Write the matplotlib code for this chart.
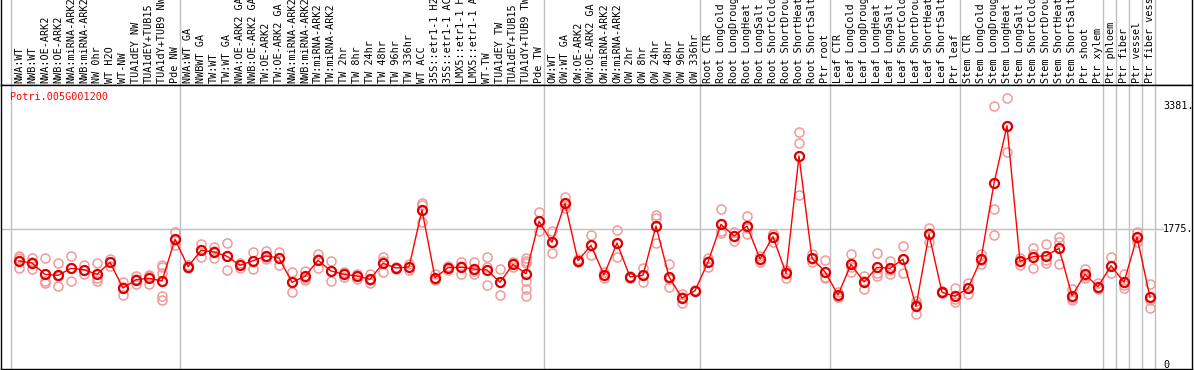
import numpy as np
import matplotlib.pyplot as plt

gene = "Potri.005G001200"

sample_labels = [
    "NWA:WT", "NWB:WT", "NWA:OE-ARK2", "NWB:OE-ARK2", "NWA:miRNA-ARK2", "NWB:miRNA-ARK2",
    "NW 0hr", "WT H2O", "WT-NW", "TUA1dEY NW", "TUA1dEY+TUB15", "TUA1dY+TUB9 NW", "Pde NW",
    "NWA:WT GA", "NWBWT GA", "TW:WT", "TW:WT GA", "NWA:OE-ARK2 GA", "NWB:OE-ARK2 GA",
    "TW:OE-ARK2", "TW:OE-ARK2 GA", "NWA:miRNA-ARK2", "NWB:miRNA-ARK2", "TW:miRNA-ARK2",
    "TW:miRNA-ARK2", "TW 2hr", "TW 8hr", "TW 24hr", "TW 48hr", "TW 96hr", "TW 336hr",
    "WT ACC", "35S::etr1-1 H2", "35S::etr1-1 AC", "LMX5::etr1-1 H", "LMX5::etr1-1 A",
    "WT-TW", "TUA1dEY TW", "TUA1dEY+TUB15", "TUA1dY+TUB9 TW", "Pde TW",
    "OW:WT", "OW:WT GA", "OW:OE-ARK2", "OW:OE-ARK2 GA", "OW:miRNA-ARK2", "OW:miRNA-ARK2",
    "OW 2hr", "OW 8hr", "OW 24hr", "OW 48hr", "OW 96hr", "OW 336hr",
    "Root CTR", "Root LongCold", "Root LongDroug", "Root LongHeat", "Root LongSalt",
    "Root ShortCold", "Root ShortDrou", "Root ShortHeat", "Root ShortSalt", "Ptr root",
    "Leaf CTR", "Leaf LongCold", "Leaf LongDroug", "Leaf LongHeat", "Leaf LongSalt",
    "Leaf ShortCold", "Leaf ShortDrou", "Leaf ShortHeat", "Leaf ShortSalt", "Ptr leaf",
    "Stem CTR", "Stem LongCold", "Stem LongDroug", "Stem LongHeat", "Stem LongSalt",
    "Stem ShortCold", "Stem ShortDrou", "Stem ShortHeat", "Stem ShortSalt", "Ptr shoot",
    "Ptr xylem", "Ptr phloem", "Ptr fiber", "Ptr vessel", "Ptr fiber vess",
]
group_sizes = [13, 28, 12, 10, 10, 11, 1, 1, 1, 1]

mean_expr = [
    1360, 1334, 1186, 1173, 1265, 1247, 1186, 1343, 1007, 1116, 1134, 1099, 1644,
    1286, 1500, 1478, 1422, 1304, 1364, 1426, 1400, 1082, 1160, 1369, 1230, 1186, 1164,
    1121, 1330, 1269, 1282, 2027, 1142, 1273, 1278, 1256, 1243, 1082, 1317, 1194, 1880,
    1605, 2115, 1364, 1566, 1177, 1596, 1151, 1173, 1818, 1155, 876, 972,
    1347, 1840, 1687, 1818, 1386, 1678, 1199, 2734, 1396, 1220,
    916, 1317, 1086, 1278, 1265, 1383, 768, 1710, 951, 899,
    1003, 1383, 2377, 3130, 1356, 1417, 1430, 1526, 906, 1186, 1024,
    1299, 1082, 1674, 886,
]

rep_expr = [
    [1426, 1400, 1269], [1400, 1347, 1256], [1396, 1103, 1069], [1330, 1164, 1029],
    [1426, 1269, 1099], [1308, 1243, 1190], [1330, 1134, 1099], [1390, 1347, 1295],
    [1090, 1016, 916], [1164, 1125, 1059], [1177, 1164, 1059], [1308, 1278, 1207, 903, 850],
    [1740, 1635, 1566],
    [1308, 1282, 1269], [1583, 1504, 1409], [1540, 1491, 1400], [1592, 1426, 1243],
    [1338, 1308, 1265], [1474, 1360, 1260], [1491, 1413, 1383], [1478, 1400, 1312],
    [1213, 1082, 951], [1230, 1138, 1112], [1452, 1383, 1273], [1364, 1230, 1095],
    [1220, 1186, 1155], [1190, 1164, 1129], [1190, 1112, 1069], [1417, 1360, 1216],
    [1286, 1269, 1256], [1317, 1282, 1247], [2115, 2093, 1874], [1194, 1121, 1112],
    [1299, 1278, 1243], [1347, 1299, 1186], [1351, 1226, 1190], [1409, 1278, 1042],
    [1252, 1082, 912], [1351, 1317, 1282], [1396, 1364, 1338, 1103, 994, 903],
    [1997, 1880, 1753],
    [1753, 1605, 1461], [2201, 2093, 2050], [1386, 1360, 1347], [1696, 1566, 1435],
    [1216, 1177, 1134], [1766, 1596, 1417], [1164, 1151, 1138], [1273, 1173, 1082],
    [1962, 1919, 1592], [1321, 1125, 1024], [929, 889, 807], [981, 972, 964],
    [1396, 1360, 1286], [2040, 1757, 1723], [1744, 1687, 1626], [1949, 1792, 1713],
    [1430, 1383, 1351], [1710, 1710, 1613], [1243, 1220, 1134], [3044, 2900, 2220],
    [1452, 1383, 1351], [1369, 1155, 1138],
    [959, 893, 893], [1452, 1278, 1220], [1164, 1099, 994], [1461, 1207, 1164],
    [1360, 1247, 1186], [1557, 1390, 1199], [837, 798, 667], [1788, 1727, 1613],
    [968, 946, 938], [1011, 863, 820],
    [1076, 1003, 929], [1448, 1377, 1321], [3388, 2037, 1700], [3488, 3130, 2782],
    [1403, 1356, 1308], [1526, 1452, 1273], [1583, 1369, 1338], [1678, 1613, 1325],
    [994, 876, 850], [1256, 1160, 1142], [1076, 1007, 990],
    [1409, 1291, 1199], [1186, 1046, 1011], [1744, 1665, 1613], [1059, 850, 742],
]

tick_values = [3381, 1775, 0]
tick_labels = ["3381.", "1775.", "0"]
grid_value = 1775

W, H = 1194, 370
mono = "DejaVu Sans Mono"
grey = "#c0c0c0"

fig = plt.figure(figsize=(W / 100, H / 100), dpi=100)
ax = fig.add_axes([1 / W, 1 / H, 1191 / W, 284 / H])
ax_lab = fig.add_axes([1 / W, 285 / H, 1191 / W, 85 / H])

# 13 px per sample, first sample 18 px from the left border
xlim = (-18 / 13, 1173 / 13)
for a in (ax, ax_lab):
    a.set_xlim(*xlim)
    a.set_xticks([])
    a.set_yticks([])
    a.set_facecolor("white")
    for s in a.spines.values():
        s.set_color("black")
        s.set_linewidth(1)
ax.set_ylim(-52, 3662)
ax.spines["top"].set_visible(False)
ax_lab.set_ylim(85, 0)
ax_lab.spines["top"].set_visible(False)

x = np.arange(len(mean_expr))

# group separators
bounds = np.concatenate([[0], np.cumsum(group_sizes)]) - 8 / 13
for b in bounds:
    ax.axvline(b, color=grey, lw=1, zorder=0)
    ax_lab.axvline(b, color=grey, lw=1, zorder=0)
ax.plot([xlim[0], 88.0], [grid_value, grid_value], color=grey, lw=1, zorder=0)

# replicates
for i, reps in enumerate(rep_expr):
    ax.plot([i] * len(reps), reps, "o", ms=6.5, mfc="none", mec="#f09a9a", mew=1.1, zorder=2)

# means
ax.plot(x, mean_expr, "-", color="red", lw=1, zorder=3)
ax.plot(x, mean_expr, "o", ms=6.5, mfc="none", mec="#dd0000", mew=1.6, zorder=4)

# sample labels
for i, lab in enumerate(sample_labels):
    ax_lab.text(i, 83, lab, rotation=90, ha="center", va="bottom",
                family=mono, fontsize=7.3, color="black", clip_on=False)
ax_lab.axhline(84.5, color="black", lw=1)

# value labels at the right
for v, t in zip(tick_values, tick_labels):
    ax.text(88.0, v, t, ha="left", va="center", family=mono, fontsize=7.3, color="black")

fig.text(10 / W, 1 - 97 / H, gene, ha="left", va="center", family=mono,
         fontsize=7.3, color="red")

fig.savefig("out.png", dpi=100)
